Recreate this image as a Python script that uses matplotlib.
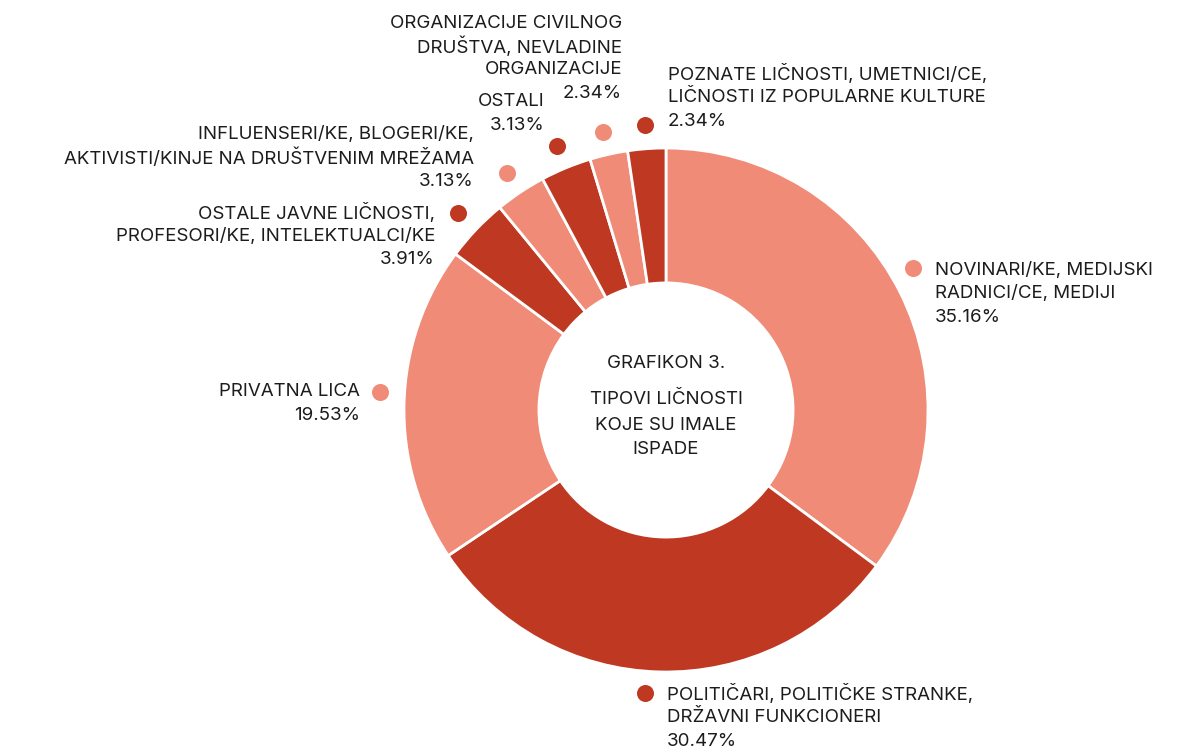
import matplotlib
matplotlib.use("Agg")
import matplotlib.pyplot as plt

W, H = 1198, 752

labels = [
    "NOVINARI/KE, MEDIJSKI\nRADNICI/CE, MEDIJI",
    "POLITIČARI, POLITIČKE STRANKE,\nDRŽAVNI FUNKCIONERI",
    "PRIVATNA LICA",
    "OSTALE JAVNE LIČNOSTI,\nPROFESORI/KE, INTELEKTUALCI/KE",
    "INFLUENSERI/KE, BLOGERI/KE,\nAKTIVISTI/KINJE NA DRUŠTVENIM MREŽAMA",
    "OSTALI",
    "ORGANIZACIJE CIVILNOG\nDRUŠTVA, NEVLADINE\nORGANIZACIJE",
    "POZNATE LIČNOSTI, UMETNICI/CE,\nLIČNOSTI IZ POPULARNE KULTURE",
]
shares = [35.16, 30.47, 19.53, 3.91, 3.13, 3.13, 2.34, 2.34]
center_title = ["GRAFIKON 3.", "TIPOVI LIČNOSTI", "KOJE SU IMALE", "ISPADE"]

LIGHT = "#F08B78"
DARK = "#BE3822"
colors = [LIGHT, DARK] * 4

# label layout: (text x, first line y, alignment, dot x, dot y)
layout = [
    (935, 270, "left", 913, 268),
    (667, 694, "left", 645, 693),
    (360, 392, "right", 380, 392),
    (435, 213, "right", 458, 213),
    (474, 135, "right", 507, 173),
    (545, 102, "right", 557, 146),
    (622, 23, "right", 603, 132),
    (668, 74, "left", 645, 125),
]

plt.rcParams["font.family"] = ["Inter", "DejaVu Sans"]
TXT = "#1c1c1c"
FS = 13.5
LINE = 23.5

fig = plt.figure(figsize=(W / 100, H / 100), dpi=100)
ax = fig.add_axes([0, 0, 1, 1])

cx, cy, r = 666, 410, 262
ax.pie(shares, colors=colors, center=(cx, cy), radius=r,
       startangle=-90, counterclock=True, frame=True,
       wedgeprops=dict(width=r * 0.515, edgecolor="white", linewidth=2))
ax.set_xlim(0, W)
ax.set_ylim(H, 0)
ax.set_aspect("equal")
ax.axis("off")

for lab, val, col, (tx, ty, ha, dx, dy) in zip(labels, shares, colors, layout):
    lines = lab.split("\n") + [f"{val:.2f}%"]
    for i, ln in enumerate(lines):
        ax.text(tx, ty + i * LINE, ln, ha=ha, va="center", fontsize=FS, color=TXT)
    ax.scatter([dx], [dy], s=150, color=col, zorder=5, linewidths=0)

# title inside the hole
ax.text(cx, 363, center_title[0], ha="center", va="center", fontsize=FS, color=TXT)
for i, ln in enumerate(center_title[1:]):
    ax.text(cx, 400 + i * 25, ln, ha="center", va="center", fontsize=FS, color=TXT)

fig.savefig("out.png", dpi=100)
